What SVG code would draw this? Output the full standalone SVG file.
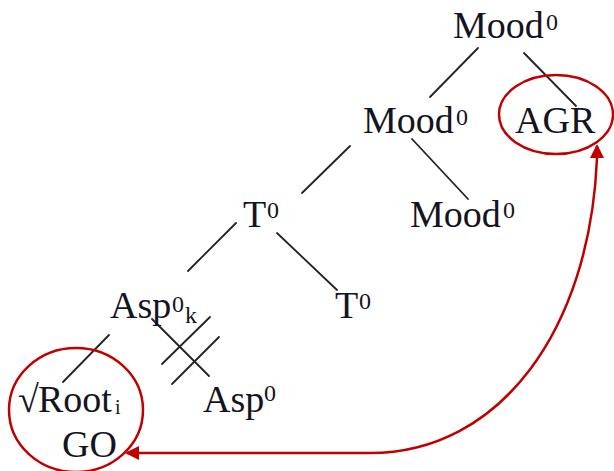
<svg xmlns="http://www.w3.org/2000/svg" width="614" height="471" viewBox="0 0 614 471">
<style>
text{font-family:"Liberation Serif","Times New Roman",serif;fill:#14141e}
.m{font-size:38px}
.s{font-size:24px}
.i{font-size:20px}
.e{stroke:#222;stroke-width:1.8;fill:none;stroke-linecap:round}
.r{stroke:#c00000;stroke-width:2.5;fill:none}
</style>
<defs>
<marker id="ah" markerWidth="14" markerHeight="14" refX="12" refY="7" orient="auto" markerUnits="userSpaceOnUse">
<path d="M0,0 L14,7 L0,14 Z" fill="#c00000"/>
</marker>
<marker id="ah2" markerWidth="14" markerHeight="14" refX="12" refY="7" orient="auto-start-reverse" markerUnits="userSpaceOnUse">
<path d="M0,0 L14,7 L0,14 Z" fill="#c00000"/>
</marker>
</defs>
<rect width="614" height="471" fill="#fff"/>
<g id="connectors">
<line class="e" x1="478" y1="48" x2="430" y2="97"/>
<line class="e" x1="524" y1="53" x2="576" y2="106"/>
<line class="e" x1="350" y1="146" x2="302" y2="193"/>
<line class="e" x1="412" y1="139" x2="468" y2="199"/>
<line class="e" x1="236" y1="223" x2="188" y2="271"/>
<line class="e" x1="277" y1="233" x2="337" y2="290"/>
<line class="e" x1="109" y1="335" x2="63" y2="382"/>
<line class="e" x1="152" y1="319" x2="209" y2="376"/>
<line class="e" x1="210" y1="317" x2="162" y2="364"/>
<line class="e" x1="219" y1="337" x2="172" y2="384"/>
</g>
<g id="n-mood-top"><text class="m" x="453" y="38">Mood</text><text class="s" x="546" y="30">0</text></g>
<g id="n-mood-mid"><text class="m" x="363" y="133">Mood</text><text class="s" x="456" y="125">0</text></g>
<g id="n-agr"><text class="m" x="515" y="133">AGR</text></g>
<g id="n-mood-low"><text class="m" x="410" y="227">Mood</text><text class="s" x="503" y="218">0</text></g>
<g id="n-t-up"><text class="m" x="243" y="227">T</text><text class="s" x="267" y="218">0</text></g>
<g id="n-t-low"><text class="m" x="335" y="318">T</text><text class="s" x="359" y="309">0</text></g>
<g id="n-asp-k"><text class="m" x="110" y="318">Asp</text><text class="s" x="172" y="312">0</text><text class="s" x="185" y="323">k</text></g>
<g id="n-asp"><text class="m" x="203" y="412">Asp</text><text class="s" x="264" y="401">0</text></g>
<g id="n-root"><text class="m" x="18" y="412">√<tspan x="38">Root</tspan></text><text class="i" x="115" y="414">i</text><text class="m" x="62" y="457">GO</text></g>
<g id="highlights">
<ellipse class="r" cx="556" cy="114.5" rx="57" ry="39.5"/>
<ellipse class="r" cx="76" cy="410" rx="67" ry="62"/>
<path class="r" d="M597,146 L597,158 C590,330 500,453 370,453 L127,453" marker-start="url(#ah2)" marker-end="url(#ah)"/>
</g>
</svg>
